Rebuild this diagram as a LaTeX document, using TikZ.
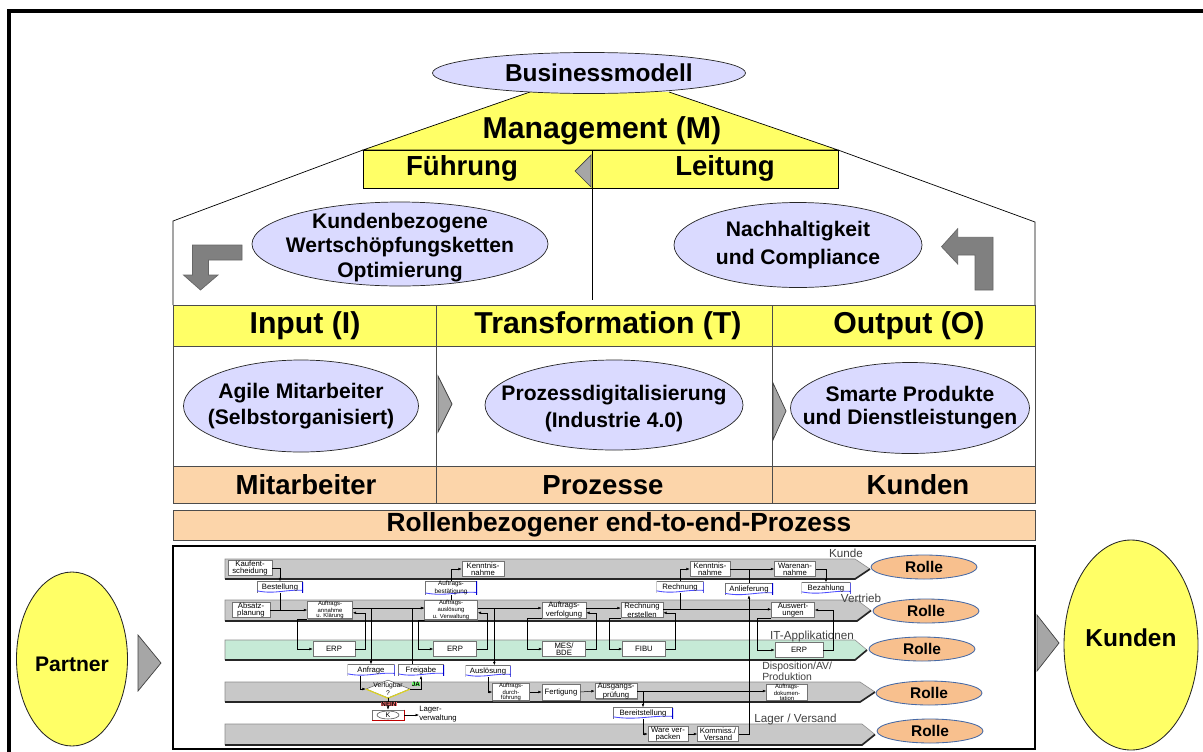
\documentclass[tikz,border=0pt]{standalone}
\usepackage{fontspec}
\setmainfont{Liberation Sans}
\usetikzlibrary{shapes.geometric,arrows.meta,calc,shadows}
\definecolor{lila}{RGB}{218,218,255}
\definecolor{gelb}{RGB}{255,255,102}
\definecolor{pfirsich}{RGB}{252,213,170}
\definecolor{rollenfarbe}{RGB}{248,192,142}
\definecolor{rollenrand}{RGB}{70,105,165}
\definecolor{bahngrau}{RGB}{200,200,200}
\definecolor{bahngruen}{RGB}{198,234,214}
\definecolor{pfeilgrau}{RGB}{128,128,128}
\definecolor{keilgrau}{RGB}{166,166,166}
\newcommand{\schrift}[2]{\fontsize{#1}{#2}\selectfont}

\begin{document}
\begin{tikzpicture}[x=0.025cm,y=-0.025cm]
\tikzstyle{every node}+=[inner sep=0pt]
\tikzset{sz/.style args={#1x#2}{minimum width=#1*0.025cm,minimum height=#2*0.025cm}}
\tikzstyle{oval}=[ellipse, draw=black!85, fill=lila, line width=0.5pt]
\tikzstyle{ovaltext}=[font=\bfseries\schrift{15}{17.5}, align=center]
\tikzstyle{kopf}=[font=\bfseries\schrift{21.5}{24}]
\tikzstyle{zeile}=[font=\bfseries\schrift{19.6}{22}]
\tikzstyle{keil}=[fill=keilgrau, draw=black!75, line width=0.5pt]
\tikzstyle{knick}=[fill=pfeilgrau, draw=black!60, line width=0.5pt]
\tikzstyle{gelboval}=[ellipse, draw=black!85, fill=gelb, line width=0.6pt]
\tikzstyle{rolle}=[ellipse, draw=rollenrand, fill=rollenfarbe, line width=0.6pt, sz=106x24]
\tikzstyle{act}=[draw=black!55, fill=white, line width=0.4pt, align=center, font=\schrift{5.5}{5},
  drop shadow={shadow xshift=0.6pt, shadow yshift=-0.6pt, fill=black!55, opacity=0.8}]
\tikzstyle{dreizeilig}=[font=\schrift{4.2}{3.6}]
\tikzstyle{doc}=[fill=white, align=center, font=\schrift{5.5}{5}, path picture={
  \draw[black!55, line width=.5pt] (path picture bounding box.south west) -- (path picture bounding box.north west) -- (path picture bounding box.north east);
  \draw[blue!70!white, line width=.6pt] ([yshift=1.2pt]path picture bounding box.south west) .. controls ($(path picture bounding box.south west)!.4!(path picture bounding box.south east)+(0,-1.5pt)$) and ($(path picture bounding box.south west)!.65!(path picture bounding box.south east)+(0,2.5pt)$) .. ([yshift=1.5pt]path picture bounding box.south east);
  \draw[blue!80!black, line width=1.4pt] (path picture bounding box.north east) -- (path picture bounding box.south east);
}]
\tikzstyle{bahntext}=[font=\schrift{8.3}{6.5}, text=black!75, align=left]
\tikzstyle{flow}=[-{Latex[length=2.4pt,width=1.9pt]}, line width=0.35pt]

\useasboundingbox (0,0) rectangle (1203,751);
\draw[line width=2.2pt] (9,760) -- (9,11) -- (1210,11);

\draw[line width=0.5pt] (173,305) -- (173,221) -- (363,150);
\draw[line width=0.5pt] (838,150) -- (1035,222) -- (1035,305);
\filldraw[fill=gelb, line width=0.5pt] (530,92) -- (363,150) -- (838,150) -- (669,92);
\node[oval, sz=313x41, label={[font=\bfseries\schrift{17.4}{20}, xshift=7pt]center:Businessmodell}] (bm) at (589,73) {};
\node[kopf] (mgmt) at (602,131) {Management (M)};
\draw[fill=gelb, line width=0.5pt] (363,150) rectangle (838,188);
\draw[line width=0.6pt] (592,150) -- (592,300);
\filldraw[keil] (591,155) -- (575,171) -- (591,187) -- cycle;
\node[zeile] (fuehrung) at (462,168) {Führung};
\node[zeile] (leitung) at (725,168) {Leitung};

\node[oval, sz=296x84, label={[ovaltext, yshift=-2.5pt]center:Kundenbezogene\\Wertschöpfungsketten\\Optimierung}] (kette) at (400,244) {};
\node[oval, sz=248x85, label={[ovaltext, font=\bfseries\schrift{15}{20}]center:Nachhaltigkeit\\und Compliance}] (nachhalt) at (798,245) {};
\filldraw[knick] (192.5,245) -- (242,245) -- (242,260) -- (208.5,260) -- (208.5,275) -- (218,275) -- (200.5,290) -- (183.5,275) -- (192.5,275) -- cycle;
\filldraw[knick] (941.5,246.7) -- (957.7,228.7) -- (957.7,237.3) -- (993,237.3) -- (993,290) -- (975,290) -- (975,255) -- (957.7,255) -- (957.7,264) -- cycle;

\draw[fill=gelb, draw=black!70, line width=0.6pt] (173,305) rectangle (1035,346);
\draw[fill=white, draw=black!70, line width=0.6pt] (173,346) rectangle (1035,466);
\draw[fill=pfirsich, draw=black!70, line width=0.6pt] (173,466) rectangle (1035,503);
\draw[black!70, line width=0.6pt] (436,305) -- (436,503) (772,305) -- (772,503);
\draw[fill=pfirsich, draw=black!70, line width=0.6pt] (173,510) rectangle (1035,540);
\node[kopf] (input) at (305,326) {Input (I)};
\node[kopf] (transf) at (608,326) {Transformation (T)};
\node[kopf] (output) at (909,326) {Output (O)};
\node[zeile] (mitarb) at (306,485) {Mitarbeiter};
\node[zeile] (prozesse) at (603,485) {Prozesse};
\node[zeile] (kundenzeile) at (918,485) {Kunden};
\node[font=\bfseries\schrift{18.7}{21}] (e2e) at (619,525) {Rollenbezogener end-to-end-Prozess};

\node[oval, sz=235x92, label={[ovaltext, font=\bfseries\schrift{15}{18.5}]center:Agile Mitarbeiter\\(Selbstorganisiert)}] (agile) at (301,406) {};
\node[oval, sz=258x90, label={[ovaltext, font=\bfseries\schrift{15}{19}, yshift=-2.5pt]center:Prozessdigitalisierung\\(Industrie 4.0)}] (digi) at (614,405) {};
\node[oval, sz=239x91, label={[ovaltext, font=\bfseries\schrift{15}{16.4}]center:Smarte Produkte\\und Dienstleistungen}] (smart) at (910,408) {};
\filldraw[keil] (438,376) -- (452,404) -- (438,432) -- cycle;
\filldraw[keil] (773,383) -- (786,411) -- (773,440) -- cycle;

\draw[line width=1.2pt, fill=white] (173,546) rectangle (1035,749);
\foreach \yt/\yb/\xe/\xt/\col in {559/579/855/870/bahngrau, 600/621/857/871/bahngrau, 640/660/855/867/bahngruen, 682/702/860/875/bahngrau, 724/745/862/875/bahngrau}
{
  \fill[\col] (225,\yt) -- (\xe,\yt) -- (\xt,{(\yt+\yb)/2}) -- (\xe,\yb) -- (225,\yb) -- cycle;
  \draw[black!45, line width=0.4pt] (225,\yb) -- (225,\yt) -- (\xe,\yt) -- (\xt,{(\yt+\yb)/2});
  \draw[black!85, line width=1.2pt] (225,\yb) -- (\xe,\yb) -- (\xt,{(\yt+\yb)/2});
}

\node[act, sz=44x15] (kauf) at (250,568) {Kaufent-\\scheidung};
\node[act, sz=42x15] (kennt1) at (483,569) {Kenntnis-\\nahme};
\node[act, sz=40x15] (kennt2) at (710,569) {Kenntnis-\\nahme};
\node[act, sz=41x15] (waren) at (795,569) {Warenan-\\nahme};
\node[doc, sz=46x11] (best) at (280,587) {Bestellung};
\node[doc, sz=52x11, font=\schrift{4.5}{3.8}] (abest) at (451,588) {Auftrags-\\bestätigung};
\node[doc, sz=47x11] (rech) at (680,587) {Rechnung};
\node[doc, sz=48x12] (anl) at (749,589) {Anlieferung};
\node[doc, sz=49x11] (bez) at (826,588) {Bezahlung};
\node[act, sz=38x15] (absatz) at (251,610) {Absatz-\\planung};
\node[act, sz=45x15, dreizeilig] (annahme) at (330,610) {Auftrags-\\annahme\\u. Klärung};
\node[act, sz=53x15, dreizeilig] (ausl) at (451,610) {Auftrags-\\auslösung\\u. Verwaltung};
\node[act, sz=44x15] (verf) at (564,610) {Auftrags-\\verfolgung};
\node[act, sz=42x15] (rerst) at (642,610) {Rechnung\\erstellen};
\node[act, sz=43x15] (ausw) at (793,610) {Auswert-\\ungen};
\node[act, sz=42x15] (erp1) at (334,649) {ERP};
\node[act, sz=43x15] (erp2) at (455,649) {ERP};
\node[act, sz=43x15] (mes) at (564,649) {MES/\\BDE};
\node[act, sz=43x15] (fibu) at (644,649) {FIBU};
\node[act, sz=48x15] (erp3) at (799,650) {ERP};
\node[doc, sz=47x11] (anfr) at (371,670) {Anfrage};
\node[doc, sz=46x11] (freig) at (421,670) {Freigabe};
\node[doc, sz=45x11] (ausloes) at (488,671) {Auslösung};
\node[diamond, draw=black!60, fill=white, sz=44x18, label={[font=\schrift{4.8}{4.3}, align=center]center:Verfügbar\\?}] (verfueg) at (388,689) {};
\node[act, sz=37x16, dreizeilig] (durch) at (511,692) {Auftrags-\\durch-\\führung};
\node[act, sz=38x16] (fert) at (561,692) {Fertigung};
\node[act, sz=42x15] (ausg) at (616,691) {Ausgangs-\\prüfung};
\node[act, sz=41x15, dreizeilig] (adok) at (787,692) {Auftrags-\\dokumen-\\tation};
\node[act, sz=32x10] (kbox) at (388,715) {};
\node[ellipse, draw=black!70, sz=22x8, font=\schrift{5}{5}] (kring) at (kbox) {K};
\node[font=\schrift{5.5}{5}, align=left, anchor=west] (lagerv) at (419,714) {Lager-\\verwaltung};
\node[doc, sz=60x11] (bereit) at (643,713) {Bereitstellung};
\node[act, sz=40x15] (verp) at (668,734) {Ware ver-\\packen};
\node[act, sz=41x15] (komm) at (718,734) {Kommiss./\\Versand};

\node[bahntext] (lkunde) at (846,553) {Kunde};
\node[bahntext] (lvertrieb) at (861,598) {Vertrieb};
\node[bahntext] (lit) at (812,636) {IT-Applikationen};
\node[bahntext, font=\schrift{7.4}{5.8}, anchor=south west] (ldispo) at (762,681) {Disposition/AV/\\Produktion};
\node[bahntext, anchor=west] (llager) at (754,719) {Lager / Versand};

\draw[yellow!85!black, line width=0.8pt] (verfueg.west) -- (verfueg.south) -- (verfueg.east);
\draw[red!75!black, line width=0.6pt] (kbox.north east) -- (kbox.south east) -- (kbox.south west);

\draw[flow] (kauf.east) -| (best.north);
\draw[flow] (absatz.east) -- (annahme.west);
\draw[line width=.35pt] (best.south) -- (best.south |- absatz.east);
\draw[flow] ([yshift=1.4pt]annahme.east) -- ([yshift=1.4pt]ausl.west);
\draw[flow] (annahme.south west) -- ++(-10,0) |- (erp1.west);
\draw[flow] (erp1.east) -- ++(10,0) |- ([yshift=-2pt]annahme.east);
\draw[flow] ([yshift=1.4pt]annahme.east) -| (anfr.north);
\draw[flow] ([xshift=-6pt]freig.north) |- ([yshift=1.4pt]ausl.west);
\draw[flow] (ausl.south west) -- ++(-6,0) |- (erp2.west);
\draw[flow] (erp2.east) -- ++(10,0) |- ([yshift=-2pt]ausl.east);
\draw[line width=.35pt] (ausl.north) -- (abest.south);
\draw[flow] (abest.north) |- (kennt1.west);
\draw[flow] ([yshift=1.4pt]ausl.east) -- ([yshift=1.4pt]verf.west);
\draw[flow] ([yshift=1.4pt]ausl.east) -| ([xshift=4.5pt]ausloes.north);
\draw[flow] (ausloes.south) |- (durch.west);
\draw[flow] (verf.south west) -- ++(-14,0) |- (mes.west);
\draw[flow] (mes.east) -- ++(10,0) |- ([yshift=-2pt]verf.east);
\draw[flow] ([yshift=1.4pt]verf.east) -- ([yshift=1.4pt]rerst.west);
\draw[flow] (rerst.south west) -- ++(-11,0) |- (fibu.west);
\draw[flow] (fibu.east) -- ++(9,0) |- ([yshift=-2pt]rerst.east);
\draw[flow] ([yshift=0.5pt]rerst.east) -- ([yshift=0.5pt]ausw.west);
\draw[line width=.35pt] (rech.south) -- (rech.south |- ausw.west);
\draw[flow] (rech.north) |- (kennt2.west);
\draw[flow] (kennt2.east) -- (waren.west);
\draw[line width=.35pt] (anl.north) -- (anl.north |- kennt2.east);
\draw[flow] (waren.east) -| (bez.north);
\draw[flow] (komm.east) -| (anl.south);
\draw[flow] (ausw.south west) -- ++(-14,0) |- (erp3.west);
\draw[flow] (erp3.east) -- ++(10,0) |- (ausw.east);
\draw[flow] ([xshift=-8pt]anfr.south) |- (verfueg.west);
\draw[flow] (verfueg.east) -| (freig.south);
\draw[flow] (verfueg.south) -- (kbox.north);
\draw[flow] (kbox.east) -- (kbox.east -| lagerv.west);
\draw[flow] (durch.east) -- (fert.west);
\draw[flow] (fert.east) -- (ausg.west);
\draw[flow] (ausg.east) -- (ausg.east -| adok.west);
\draw[flow] (ausg.east) -| (bereit.north);
\draw[flow] (bereit.south) |- (verp.west);
\draw[flow] (verp.east) -- (komm.west);
\node[fill=green!55, font=\bfseries\schrift{4.5}{4.5}] (ja) at (416,684) {JA};
\node[fill=red!55, font=\bfseries\schrift{4.5}{4.5}] (nein) at (389,704) {NEIN};

\foreach \n/\x/\y in {1/924/567, 2/926/611, 3/922/649, 4/929/693, 5/930/731}
  \node[rolle, label={[font=\bfseries\schrift{11}{12}]center:Rolle}] (rolle\n) at (\x,\y) {};

\node[gelboval, sz=111x174, label={[font=\bfseries\schrift{15}{17}, yshift=-4pt]center:Partner}] (partner) at (72,659) {};
\filldraw[keil] (138,635) -- (161,663) -- (138,691) -- cycle;
\node[gelboval, sz=134x210, label={[font=\bfseries\schrift{17.4}{20}, yshift=5.5pt]center:Kunden}] (kunden) at (1131,645) {};
\filldraw[keil] (1037,615) -- (1059,643) -- (1037,671) -- cycle;
\end{tikzpicture}
\end{document}
